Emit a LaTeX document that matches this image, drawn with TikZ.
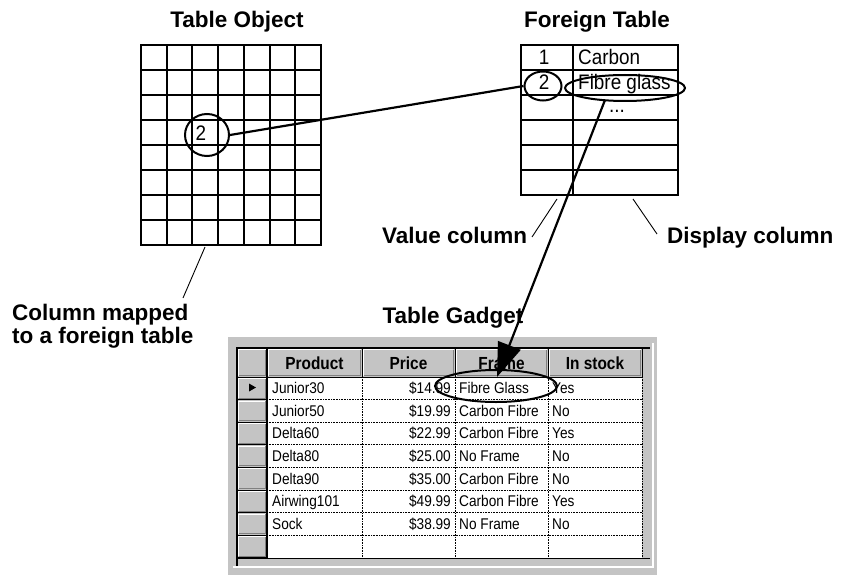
\documentclass[tikz,border=0pt]{standalone}
\usepackage{fontspec}
\setmainfont{Liberation Sans}
\newfontfamily\narrowfont[FakeStretch=0.9]{Liberation Sans}
\newfontfamily\gadgetfont[FakeStretch=0.88]{Liberation Sans}
\usetikzlibrary{arrows.meta,shapes.geometric}
\definecolor{wingray}{RGB}{196,196,196}
\definecolor{winshade}{RGB}{128,128,128}
\begin{document}
\begin{tikzpicture}[x=1pt,y=-1pt,
  heading/.style={font=\fontsize{22.5}{22.5}\selectfont\bfseries, inner sep=0},
  gridline/.style={line width=2pt},
  joinline/.style={line width=2.2pt},
  leader/.style={line width=0.9pt},
  ring/.style={draw, line width=2pt, ellipse, inner sep=0},
  ftext/.style={font=\fontsize{21}{21}\selectfont\narrowfont, inner sep=0},
  gtext/.style={font=\fontsize{15.5}{15.5}\selectfont\gadgetfont, inner sep=0},
  ghead/.style={font=\fontsize{17.5}{17.5}\selectfont\gadgetfont\bfseries, inner sep=0},
  cellrule/.style={line width=0.8pt, dash pattern=on 0.8pt off 0.8pt},
]
\useasboundingbox (0,0) rectangle (845,575);

% ---------- Table object: 7 x 8 grid ----------
\draw[gridline] (141,45) rectangle (321,245);
\foreach \i in {1,...,6} \draw[gridline] ({141+25.7*\i},45) -- ({141+25.7*\i},245);
\foreach \j in {1,...,7} \draw[gridline] (141,{45+25*\j}) -- (321,{45+25*\j});
\node[heading, anchor=base] (toTitle) at (237,28) {Table Object};
\node[ftext, anchor=base] (toVal) at (201,140.5) {2};
\node[ring, minimum width=44pt, minimum height=42pt] (toRing) at (207,135) {};

% ---------- Foreign table ----------
\draw[gridline] (521,45) rectangle (678,195);
\draw[gridline] (573,45) -- (573,195);
\foreach \j in {1,...,5} \draw[gridline] (521,{45+25*\j}) -- (678,{45+25*\j});
\node[heading, anchor=base] (ftTitle) at (597,28) {Foreign Table};
\node[ftext, anchor=base] (ftKeyA) at (544,65) {1};
\node[ftext, anchor=base west] (ftTxtA) at (578,65) {Carbon};
\node[ftext, anchor=base] (ftKeyB) at (544,90) {2};
\node[ftext, anchor=base west] (ftTxtB) at (578,90) {Fibre glass};
\node[ftext, anchor=base] (ftMore) at (617,113) {...};
\node[ring, minimum width=37pt, minimum height=29pt] (ftRing) at (543,86) {};
\node[ring, minimum width=120pt, minimum height=26pt] (ftEll) at (625,88) {};

\draw[joinline] (toRing.east) -- (ftRing.west);

% ---------- Labels and leader lines ----------
\node[heading, anchor=base west] (valLbl) at (382,243) {Value column};
\node[heading, anchor=base west] (dispLbl) at (667,243) {Display column};
\node[heading, anchor=north west, align=left] (mapLbl) at (12,304) {Column mapped\\to a foreign table};
\node[heading, anchor=base] (tgTitle) at (453,323) {Table Gadget};

\coordinate (mapFoot) at (205,247);  \coordinate (mapTip) at (183,298);
\coordinate (valFoot) at (557,199);  \coordinate (valTip) at (532,237);
\coordinate (dispFoot) at (633,199); \coordinate (dispTip) at (657,234);
\draw[leader] (mapFoot) -- (mapTip);
\draw[leader] (valFoot) -- (valTip);
\draw[leader] (dispFoot) -- (dispTip);

% ---------- Table gadget window ----------
\fill[wingray] (228,337) rectangle (657,575);
\draw[white, line width=1.2pt] (233,567) -- (653,567) -- (653,343);
\fill[white] (267,377) rectangle (642,557.8);
\foreach \k in {1,...,7} \draw[cellrule] (267,{377+22.6*\k}) -- (642,{377+22.6*\k});
\foreach \x in {362,455,548,642} \draw[cellrule] (\x,377) -- (\x,557.8);

% column header buttons
\foreach \a/\b in {237/267,267/362,362/455,455/548,548/642} {
  \fill[wingray] (\a,348) rectangle (\b,377);
  \draw[white, line width=1pt] ({\a+1.5},375.5) -- ({\a+1.5},349.5) -- ({\b-1.5},349.5);
  \draw[winshade, line width=1pt] ({\a+1.5},375.5) -- ({\b-1.5},375.5) -- ({\b-1.5},349.5);
  \draw[black, line width=1pt] (\a,348) rectangle (\b,377);
}
% row header buttons
\foreach \k in {0,...,7} {
  \pgfmathsetmacro\ya{377+22.6*\k}
  \pgfmathsetmacro\yb{\ya+22.6}
  \fill[wingray] (237,\ya) rectangle (267,\yb);
  \draw[white, line width=1pt] (238.5,{\yb-1.5}) -- (238.5,{\ya+1.5}) -- (265.5,{\ya+1.5});
  \draw[winshade, line width=1pt] (238.5,{\yb-1.5}) -- (265.5,{\yb-1.5}) -- (265.5,{\ya+1.5});
  \draw[black, line width=1pt] (237,\ya) rectangle (267,\yb);
}
\draw[black, line width=1.5pt] (237,566) -- (237,348) -- (650,348);
\draw[black, line width=1.5pt] (237,558.5) -- (650,558.5);
\draw[black, line width=1.2pt] (267,348) -- (267,558);
\fill (249,383.5) -- (256,387.5) -- (249,391.5) -- cycle;

\node[ghead, anchor=base] (hProd) at (314.5,369.5) {Product};
\node[ghead, anchor=base] (hPrice) at (408.5,369.5) {Price};
\node[ghead, anchor=base] (hFrame) at (501.5,369.5) {Frame};
\node[ghead, anchor=base] (hStock) at (595,369.5) {In stock};

\foreach \k/\p/\c/\f/\s in {
  0/Junior30/\$14.99/Fibre Glass/Yes,
  1/Junior50/\$19.99/Carbon Fibre/No,
  2/Delta60/\$22.99/Carbon Fibre/Yes,
  3/Delta80/\$25.00/No Frame/No,
  4/Delta90/\$35.00/Carbon Fibre/No,
  5/Airwing101/\$49.99/Carbon Fibre/Yes,
  6/Sock/\$38.99/No Frame/No} {
  \node[gtext, anchor=base west] (gP\k) at (272,{393.7+22.6*\k}) {\p};
  \node[gtext, anchor=base east] (gC\k) at (451,{393.7+22.6*\k}) {\c};
  \node[gtext, anchor=base west] (gF\k) at (459,{393.7+22.6*\k}) {\f};
  \node[gtext, anchor=base west] (gS\k) at (552,{393.7+22.6*\k}) {\s};
}

\node[ring, minimum width=122pt, minimum height=32pt] (gEll) at (496,386) {};

% ---------- Link from display value to gadget cell ----------
\coordinate (ftDrop) at (605,100);
\coordinate (gTip) at (497,377);
\draw[joinline, -{Triangle[length=34pt,width=24pt]}] (ftDrop) -- (gTip);
\end{tikzpicture}
\end{document}
